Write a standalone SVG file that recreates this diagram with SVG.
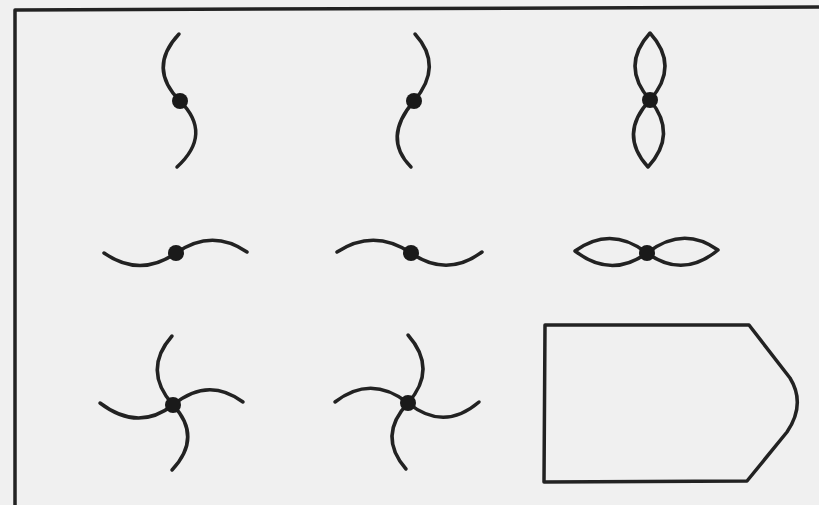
<svg xmlns="http://www.w3.org/2000/svg" width="819" height="505" viewBox="0 0 819 505">
<style>
.s{fill:none;stroke:#222;stroke-width:3.5;stroke-linecap:round;stroke-linejoin:round}
.d{fill:#1a1a1a}
</style>
<rect width="819" height="505" fill="#f0f0f0"/>
<path class="s" d="M15,505 L15,10 L819,7" stroke-width="3"/>
<g id="n1">
<path class="s" d="M179,34 Q147,68 180,101 Q213,134 177,167"/>
<circle class="d" cx="180" cy="101" r="8"/>
</g>
<g id="n2">
<path class="s" d="M415,34 Q444,66 414,101 Q382,138 411,167"/>
<circle class="d" cx="414" cy="101" r="8"/>
</g>
<g id="n3">
<path class="s" d="M650,33 Q620,66 650,100 Q680,66 650,33 Z M650,100 Q618,134 648,167 Q678,134 650,100 Z"/>
<circle class="d" cx="650" cy="100" r="8"/>
</g>
<g id="n4">
<path class="s" d="M104,253 Q140,278 176,253 Q212,228 247,252"/>
<circle class="d" cx="176" cy="253" r="8"/>
</g>
<g id="n5">
<path class="s" d="M337,252 Q374,228 411,253 Q447,278 482,252"/>
<circle class="d" cx="411" cy="253" r="8"/>
</g>
<g id="n6">
<path class="s" d="M575,251 Q611,225 647,253 Q611,279 575,251 Z M647,253 Q683,225 718,250 Q683,279 647,253 Z"/>
<circle class="d" cx="647" cy="253" r="8"/>
</g>
<g id="n7">
<path class="s" d="M172,336 Q142,370 173,405 M173,405 Q208,376 243,402 M173,405 Q203,437 172,470 M173,405 Q138,432 100,403"/>
<circle class="d" cx="173" cy="405" r="8"/>
</g>
<g id="n8">
<path class="s" d="M408,335 Q438,369 408,403 M408,403 Q444,432 479,402 M408,403 Q377,436 406,469 M408,403 Q371,374 335,402"/>
<circle class="d" cx="408" cy="403" r="8"/>
</g>
<g id="n9">
<path class="s" d="M545,325 L749,325 L790,378 Q806,404 787,432 L747,481 L544,482 Z"/>
</g>
</svg>
